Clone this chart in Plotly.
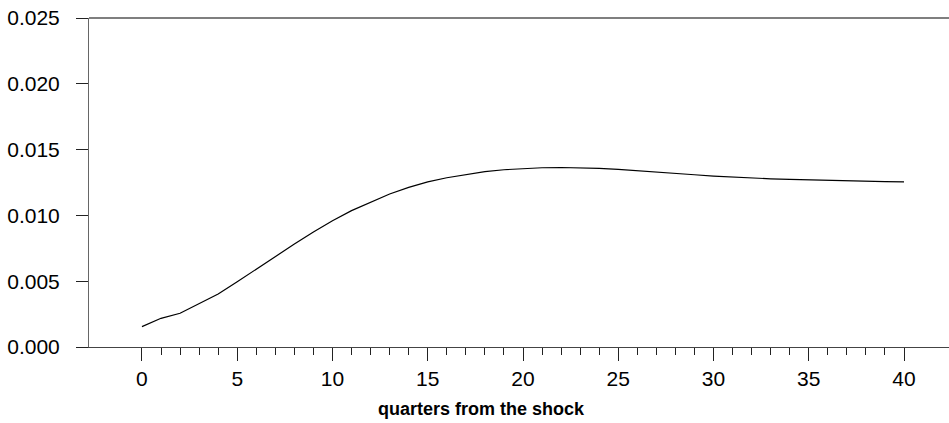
import plotly.graph_objects as go

# Impulse response over 40 quarters
quarters = list(range(0, 41))
response = [
    0.00155, 0.00218, 0.00256, 0.00327, 0.00403, 0.00496, 0.00593, 0.00688,
    0.00782, 0.00874, 0.00960, 0.01036, 0.01100, 0.01163, 0.01213, 0.01255,
    0.01286, 0.01312, 0.01333, 0.01347, 0.01356, 0.01362, 0.01364, 0.01362,
    0.01357, 0.01350, 0.01341, 0.01331, 0.01320, 0.01309, 0.01299, 0.01291,
    0.01284, 0.01278, 0.01273, 0.01269, 0.01265, 0.01262, 0.01259, 0.01257,
    0.01255,
]
x_major = [0, 5, 10, 15, 20, 25, 30, 35, 40]
x_minor = list(range(0, 41))
y_ticks = [0.0, 0.005, 0.010, 0.015, 0.020, 0.025]
x_title = "quarters from the shock"

FONT = "Liberation Sans, Arial, sans-serif"

fig = go.Figure()
fig.add_trace(go.Scatter(
    x=quarters, y=response, mode="lines",
    line=dict(color="black", width=1.2),
    showlegend=False, hoverinfo="skip",
))

fig.update_xaxes(
    range=[-2.78, 42.36],
    tickmode="array", tickvals=x_major,
    ticks="outside", ticklen=13, tickwidth=1, tickcolor="#222",
    minor=dict(tickmode="array", tickvals=x_minor, ticks="outside",
               ticklen=7, tickwidth=1, tickcolor="#222"),
    showline=True, linecolor="#444", linewidth=1, mirror=False,
    showgrid=False, zeroline=False,
    tickfont=dict(family=FONT, size=21, color="black"),
)
fig.update_yaxes(
    range=[0, 0.025],
    tickmode="array", tickvals=y_ticks, tickformat=".3f",
    ticks="outside", ticklen=12, tickwidth=1, tickcolor="#222",
    showline=True, linecolor="#666", linewidth=1, mirror=False,
    showgrid=False, zeroline=False,
    tickfont=dict(family=FONT, size=21, color="black"),
    ticklabelstandoff=12,
)

# top frame line across the plot area
fig.add_shape(
    type="line", xref="paper", yref="paper",
    x0=0, x1=1, y0=1, y1=1,
    line=dict(color="black", width=1.2),
)

fig.add_annotation(
    text=x_title, xref="paper", yref="paper",
    x=(481 - 89) / 860, y=-(409 - 347) / 329,
    xanchor="center", yanchor="middle", showarrow=False,
    font=dict(family=FONT, size=18, color="black", weight="bold"),
)

fig.update_layout(
    width=949, height=423,
    margin=dict(l=89, r=0, t=18, b=76),
    paper_bgcolor="white", plot_bgcolor="white",
    dragmode=False,
)

fig.write_html("out.html", config={"staticPlot": True})
